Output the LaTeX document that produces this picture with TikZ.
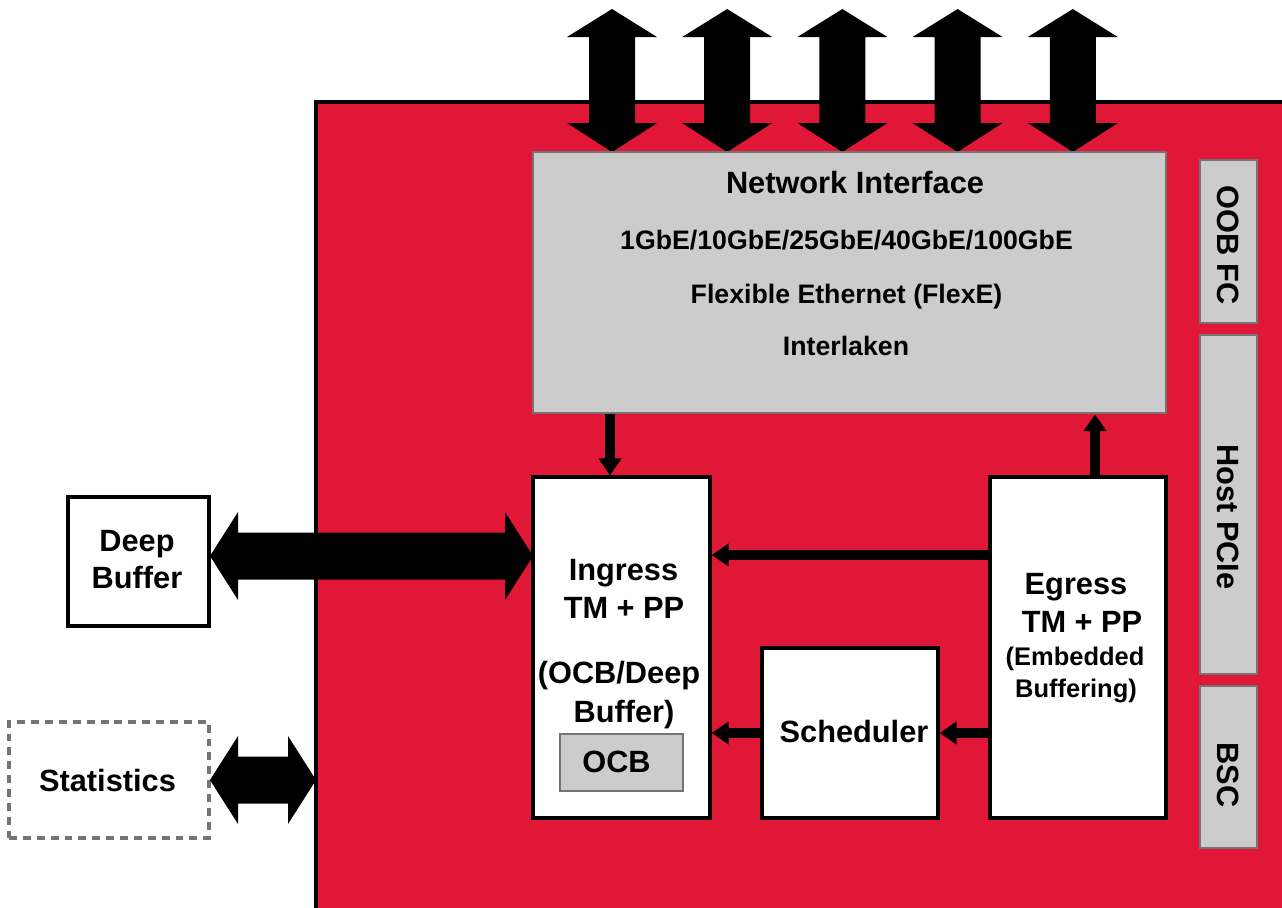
\documentclass[tikz,border=0pt]{standalone}
\usepackage{fontspec}
\setmainfont{Liberation Sans}
\usetikzlibrary{positioning,calc,arrows.meta}
\definecolor{chipred}{HTML}{E11737}
\definecolor{blockgray}{HTML}{CCCCCC}
\definecolor{edgegray}{HTML}{747474}

\begin{document}
\begin{tikzpicture}[x=0.02cm,y=-0.02cm]
\tikzstyle{block}=[draw=black, fill=white, line width=2pt, inner sep=0pt]
\tikzstyle{greybox}=[draw=edgegray, fill=blockgray, line width=1.5pt, inner sep=0pt]
\tikzstyle{big}=[font=\fontsize{17.5}{21}\selectfont\bfseries, inner sep=0pt]
\tikzstyle{mid}=[font=\fontsize{15.2}{18}\selectfont\bfseries, inner sep=0pt]
\tikzstyle{small}=[font=\fontsize{14.5}{17}\selectfont\bfseries, inner sep=0pt]
\tikzstyle{thinarrow}=[line width=6pt, -{Triangle[length=9.6pt,width=12.5pt]}]

\useasboundingbox (0,0) rectangle (1282,907);
\clip (0,0) rectangle (1282,907);

% chip
\filldraw[fill=chipred, draw=black, line width=2.3pt] (316,102) rectangle (1310,940);

% ports on top
\foreach \i in {0,...,4}{
  \pgfmathsetmacro{\cx}{612+115.2*\i}
  \fill (\cx,9) -- (\cx+45,37) -- (\cx+23,37) -- (\cx+23,123) -- (\cx+45,123)
    -- (\cx,152) -- (\cx-45,123) -- (\cx-23,123) -- (\cx-23,37) -- (\cx-45,37) -- cycle;
}

\node[greybox, minimum width=12.66cm, minimum height=5.22cm] (ni) at (849.5,282.5) {};
\node[greybox, minimum width=3.26cm, minimum height=1.14cm, rotate=-90] (oob) at (1228.5,241.5) {};
\node[greybox, minimum width=6.78cm, minimum height=1.14cm, rotate=-90] (pcie) at (1228.5,504.5) {};
\node[greybox, minimum width=3.24cm, minimum height=1.14cm, rotate=-90] (bsc) at (1228.5,767) {};

\node[block, minimum width=3.54cm, minimum height=6.82cm] (ingress) at (621.5,647.5) {};
\node[block, minimum width=3.52cm, minimum height=6.82cm] (egress) at (1078,647.5) {};
\node[block, minimum width=3.52cm, minimum height=3.4cm] (sched) at (850,733) {};
\node[greybox, minimum width=2.46cm, minimum height=1.14cm] (ocb) at (621.5,762.5) {};
\node[block, minimum width=2.82cm, minimum height=2.58cm] (deep) at (138.5,561.5) {};
\node[draw=edgegray, line width=1.8pt, dash pattern=on 4.5pt off 3.4pt,
  minimum width=4.0cm, minimum height=2.32cm] (stats) at (109,780) {};

% labels
\node[big, anchor=base] (nit) at (855,193) {Network Interface};
\node[mid, anchor=base] (rates) at (846.5,249) {1GbE/10GbE/25GbE/40GbE/100GbE};
\node[mid, anchor=base] (flexe) at (846.5,303) {Flexible Ethernet (FlexE)};
\node[mid, anchor=base] (ilkn) at (846,355) {Interlaken};
\node[big, rotate=-90] (oobt) at (1228,245) {OOB FC};
\node[big, rotate=-90] (pciet) at (1228,517) {Host PCIe};
\node[big, rotate=-90] (bsct) at (1228,775) {BSC};
\node[big, anchor=base] (in1) at (623.5,580) {Ingress};
\node[big, anchor=base] (in2) at (624,618) {TM + PP};
\node[big, anchor=base] (in3) at (619,683) {(OCB/Deep};
\node[big, anchor=base] (in4) at (624,722) {Buffer)};
\node[big, anchor=base] (ocbt) at (616.5,772) {OCB};
\node[big, anchor=base] (eg1) at (1076,594) {Egress};
\node[big, anchor=base] (eg2) at (1082,632) {TM + PP};
\node[small, anchor=base] (eg3) at (1075,665) {(Embedded};
\node[small, anchor=base] (eg4) at (1076,697) {Buffering)};
\node[big, anchor=base] (schedt) at (854,742) {Scheduler};
\node[big, anchor=base] (deep1) at (137,551) {Deep};
\node[big, anchor=base] (deep2) at (137,588) {Buffer};
\node[big, anchor=base] (statst) at (107.5,791) {Statistics};

% links inside the chip
\draw[thinarrow] (610,0 |- ni.south) -- (610,0 |- ingress.north);
\draw[thinarrow] (1095,0 |- egress.north) -- (1095,0 |- ni.south);
\draw[thinarrow] (egress.west |- 0,555) -- (ingress.east |- 0,555);
\draw[thinarrow] (sched.west |- 0,733) -- (ingress.east |- 0,733);
\draw[thinarrow] (egress.west |- 0,733) -- (sched.east |- 0,733);

% fat links to the outside
\foreach \a/\b/\y in {210/533/556, 210/316/780}{
  \fill (\a,\y) -- (\a+28,\y-44) -- (\a+28,\y-23.5) -- (\b-28,\y-23.5) -- (\b-28,\y-44)
    -- (\b,\y) -- (\b-28,\y+44) -- (\b-28,\y+23.5) -- (\a+28,\y+23.5) -- (\a+28,\y+44) -- cycle;
}
\end{tikzpicture}
\end{document}
